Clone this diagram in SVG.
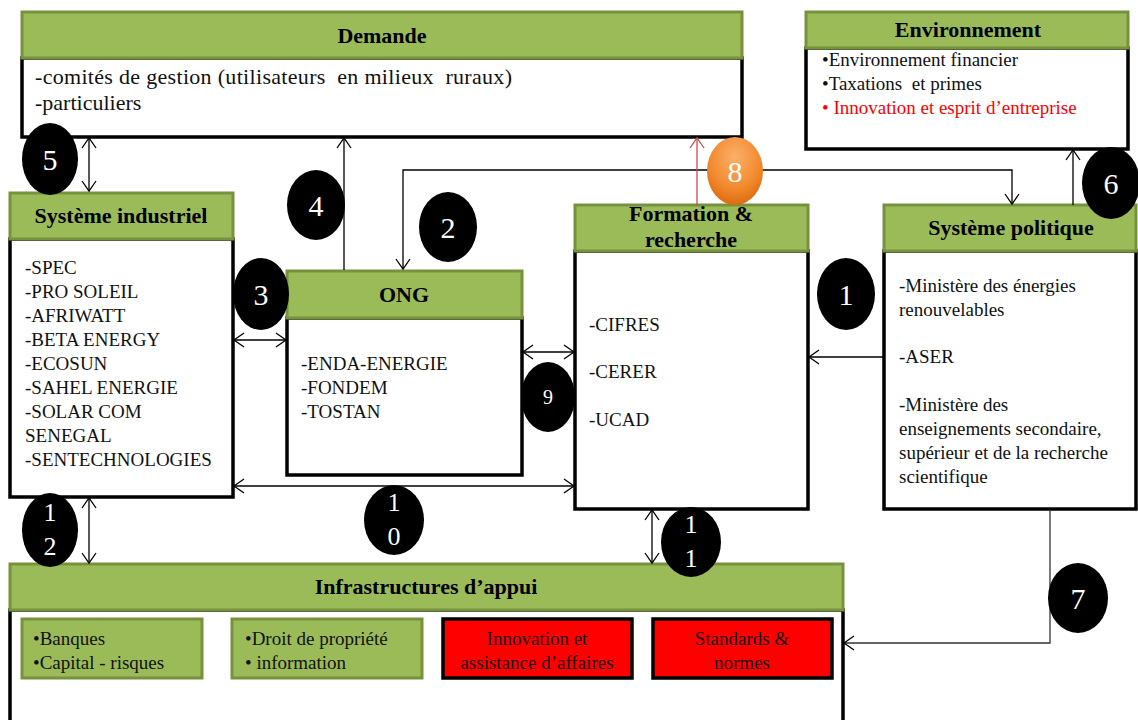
<svg xmlns="http://www.w3.org/2000/svg" width="1138" height="720" viewBox="0 0 1138 720">
<style>
.body{fill:#fff;stroke:#000;stroke-width:3.5}
.hdr{fill:#9BBB59;stroke:#76923C;stroke-width:3}
.ttl{font-family:"Liberation Serif",serif;font-weight:bold;font-size:22px;fill:#000;text-anchor:middle}
.txt{font-family:"Liberation Serif",serif;font-size:19px;fill:#111}
.big{font-size:22px}
.red{fill:#FF0000}
.sub{fill:#9BBB59;stroke:#76923C;stroke-width:3}
.rbox{fill:#FF0000;stroke:#000;stroke-width:3.5}
.con{fill:none;stroke:#000;stroke-width:1.3}
.badge{fill:#000}
.num{font-family:"Liberation Serif",serif;font-size:30px;fill:#fff;text-anchor:middle}
.num2{font-family:"Liberation Serif",serif;font-size:26px;fill:#fff;text-anchor:middle}
</style>
<defs>
<marker id="ah" viewBox="-1 -1 12 16" refX="10" refY="7" markerWidth="12" markerHeight="16" markerUnits="userSpaceOnUse" orient="auto-start-reverse" overflow="visible"><path d="M0,0 L10,7 L0,14" fill="none" stroke="#000" stroke-width="1.3"/></marker>
<marker id="ahr" viewBox="-1 -1 12 16" refX="10" refY="7" markerWidth="12" markerHeight="16" markerUnits="userSpaceOnUse" orient="auto-start-reverse" overflow="visible"><path d="M0,0 L10,7 L0,14" fill="none" stroke="#C0504D" stroke-width="1.3"/></marker>
<radialGradient id="og" cx="0.5" cy="0.3" r="0.75">
<stop offset="0" stop-color="#FBB06A"/>
<stop offset="0.6" stop-color="#F38A2E"/>
<stop offset="1" stop-color="#D9650A"/>
</radialGradient>
</defs>

<g id="demande">
<rect class="body" x="22" y="58" width="720" height="79"/>
<rect class="hdr" x="22" y="12" width="720" height="46"/>
<text class="ttl" x="382" y="43">Demande</text>
<text class="txt big" x="35" y="84" xml:space="preserve" textLength="477" lengthAdjust="spacing">-comités de gestion (utilisateurs  en milieux  ruraux)</text>
<text class="txt big" x="35" y="110">-particuliers</text>
</g>

<g id="environnement">
<rect class="body" x="806" y="48" width="322" height="101"/>
<rect class="hdr" x="806" y="12" width="322" height="36"/>
<text class="ttl" x="968" y="37">Environnement</text>
<text class="txt" x="822" y="66">•Environnement financier</text>
<text class="txt" x="822" y="90" xml:space="preserve">•Taxations  et primes</text>
<text class="txt red" x="822" y="114">• Innovation et esprit d’entreprise</text>
</g>

<g id="systeme-industriel">
<rect class="body" x="10" y="239" width="223" height="258"/>
<rect class="hdr" x="10" y="193" width="223" height="46"/>
<text class="ttl" x="121" y="223">Système industriel</text>
<text class="txt" x="25" y="274">-SPEC</text>
<text class="txt" x="25" y="298">-PRO SOLEIL</text>
<text class="txt" x="25" y="322">-AFRIWATT</text>
<text class="txt" x="25" y="346">-BETA ENERGY</text>
<text class="txt" x="25" y="370">-ECOSUN</text>
<text class="txt" x="25" y="394">-SAHEL ENERGIE</text>
<text class="txt" x="25" y="418">-SOLAR COM</text>
<text class="txt" x="25" y="442">SENEGAL</text>
<text class="txt" x="25" y="466">-SENTECHNOLOGIES</text>
</g>

<g id="ong">
<rect class="body" x="287" y="318" width="235" height="157"/>
<rect class="hdr" x="287" y="271" width="235" height="47"/>
<text class="ttl" x="404" y="302">ONG</text>
<text class="txt" x="301" y="370">-ENDA-ENERGIE</text>
<text class="txt" x="301" y="394">-FONDEM</text>
<text class="txt" x="301" y="418">-TOSTAN</text>
</g>

<g id="formation-recherche">
<rect class="body" x="575" y="251" width="233" height="258"/>
<rect class="hdr" x="575" y="205" width="233" height="46"/>
<text class="ttl" x="691" y="221">Formation &amp;</text>
<text class="ttl" x="691" y="247">recherche</text>
<text class="txt" x="589" y="331">-CIFRES</text>
<text class="txt" x="589" y="378">-CERER</text>
<text class="txt" x="589" y="426">-UCAD</text>
</g>

<g id="systeme-politique">
<rect class="body" x="884" y="251" width="252" height="258"/>
<rect class="hdr" x="884" y="205" width="252" height="46"/>
<text class="ttl" x="1011" y="235">Système politique</text>
<text class="txt" x="899" y="292">-Ministère des énergies</text>
<text class="txt" x="899" y="316">renouvelables</text>
<text class="txt" x="899" y="363">-ASER</text>
<text class="txt" x="899" y="411">-Ministère des</text>
<text class="txt" x="899" y="435">enseignements secondaire,</text>
<text class="txt" x="899" y="459">supérieur et de la recherche</text>
<text class="txt" x="899" y="483">scientifique</text>
</g>

<g id="infrastructures">
<rect class="body" x="10" y="610" width="833" height="120"/>
<rect class="hdr" x="10" y="564" width="833" height="46"/>
<text class="ttl" x="426" y="594">Infrastructures d’appui</text>
<rect class="sub" x="22" y="619" width="180" height="59"/>
<text class="txt" x="33" y="645">•Banques</text>
<text class="txt" x="33" y="669">•Capital - risques</text>
<rect class="sub" x="232" y="619" width="190" height="59"/>
<text class="txt" x="245" y="645">•Droit de propriété</text>
<text class="txt" x="245" y="669">• information</text>
<rect class="rbox" x="443" y="619" width="189" height="59"/>
<text class="txt" x="537" y="645" text-anchor="middle" fill="#2a0000">Innovation et</text>
<text class="txt" x="537" y="669" text-anchor="middle" fill="#2a0000">assistance d’affaires</text>
<rect class="rbox" x="653" y="619" width="179" height="59"/>
<text class="txt" x="742" y="645" text-anchor="middle" fill="#2a0000">Standards &amp;</text>
<text class="txt" x="742" y="669" text-anchor="middle" fill="#2a0000">normes</text>
</g>

<g id="connectors">
<path class="con" d="M89,191 L89,138" marker-start="url(#ah)" marker-end="url(#ah)"/>
<path class="con" d="M344,270 L344,138" marker-end="url(#ah)"/>
<path class="con" d="M403,269 L403,170 L1012,170 L1012,204" marker-start="url(#ah)" marker-end="url(#ah)"/>
<path class="con" d="M697,205 L697,138" style="stroke:#C0504D" marker-end="url(#ahr)"/>
<path class="con" d="M1073,205 L1073,150" marker-end="url(#ah)"/>
<path class="con" d="M234,340 L286,340" marker-start="url(#ah)" marker-end="url(#ah)"/>
<path class="con" d="M523,352 L574,352" marker-start="url(#ah)" marker-end="url(#ah)"/>
<path class="con" d="M234,486 L574,486" marker-start="url(#ah)" marker-end="url(#ah)"/>
<path class="con" d="M883,357 L809,357" marker-end="url(#ah)"/>
<path class="con" d="M89,498 L89,563" marker-start="url(#ah)" marker-end="url(#ah)"/>
<path class="con" d="M652,510 L652,563" marker-start="url(#ah)" marker-end="url(#ah)"/>
<path class="con" d="M1050,510 L1050,643 L844,643" style="stroke:#333" marker-end="url(#ah)"/>
</g>

<g id="labels">
<ellipse class="badge" cx="50" cy="159" rx="28" ry="36"/><text class="num" x="50" y="170">5</text>
<ellipse class="badge" cx="316" cy="205" rx="29" ry="35"/><text class="num" x="316" y="216">4</text>
<ellipse class="badge" cx="448" cy="227" rx="29" ry="35"/><text class="num" x="448" y="238">2</text>
<ellipse class="badge" cx="261" cy="294" rx="28" ry="36"/><text class="num" x="261" y="305">3</text>
<ellipse fill="url(#og)" cx="735" cy="171" rx="28" ry="34"/><text class="num" x="735" y="182">8</text>
<ellipse class="badge" cx="1111" cy="183" rx="29" ry="36"/><text class="num" x="1111" y="194">6</text>
<ellipse class="badge" cx="846" cy="294" rx="29" ry="36"/><text class="num" x="846" y="305">1</text>
<ellipse class="badge" cx="548" cy="397" rx="27" ry="35"/><text class="num" style="font-size:20px" x="548" y="404">9</text>
<ellipse class="badge" cx="394" cy="520" rx="30" ry="35"/><text class="num2" x="394" y="511">1</text><text class="num2" x="394" y="545">0</text>
<ellipse class="badge" cx="50" cy="530" rx="28" ry="37"/><text class="num2" x="50" y="521">1</text><text class="num2" x="50" y="555">2</text>
<ellipse class="badge" cx="691" cy="542" rx="30" ry="35"/><text class="num2" x="691" y="533">1</text><text class="num2" x="691" y="567">1</text>
<ellipse class="badge" cx="1078" cy="598" rx="30" ry="35"/><text class="num" x="1078" y="609">7</text>
</g>
</svg>
